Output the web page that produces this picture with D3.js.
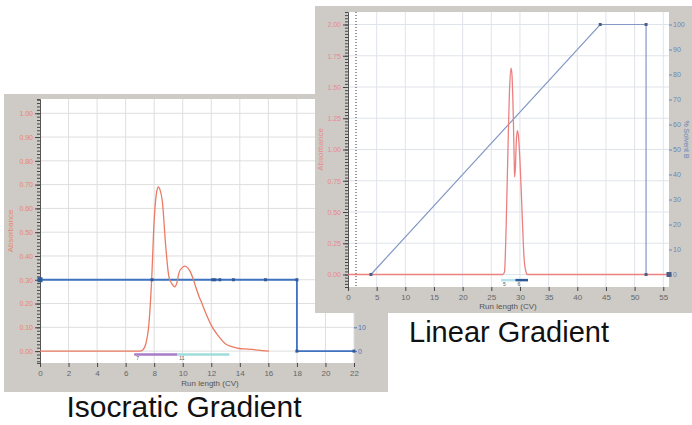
<!DOCTYPE html>
<html>
<head>
<meta charset="utf-8">
<script src="https://cdn.jsdelivr.net/npm/d3@7"></script>
<style>
  body { margin: 0; background: #fff; }
  svg { display: block; font-family: "Liberation Sans", Arial, sans-serif; }
</style>
</head>
<body>
<svg id="chart" width="692" height="425"></svg>
<script>
(function() {

  // isocratic run (left screenshot)
  const isoRunCV = [0, 7.0, 7.2, 7.41, 7.64, 7.83, 7.99, 8.15, 8.29, 8.4, 8.57, 8.81, 9.04, 9.28, 9.44, 9.6, 9.74, 9.95, 10.14, 10.35, 10.56, 10.75, 10.91, 11.14, 11.35, 11.61, 12.08, 12.55, 13.01, 13.5, 13.95, 14.4, 14.88, 15.3, 15.82, 16.05]
  const isoAbs = [0, 0, 0.005, 0.03, 0.12, 0.31, 0.54, 0.66, 0.69, 0.68, 0.63, 0.44, 0.31, 0.28, 0.27, 0.29, 0.33, 0.35, 0.357, 0.35, 0.33, 0.30, 0.27, 0.23, 0.20, 0.16, 0.10, 0.06, 0.03, 0.018, 0.011, 0.009, 0.007, 0.004, 0.001, 0]
  const isoGradCV = [0, 18, 18, 22]
  const isoGradB = [30, 30, 0, 0]
  const isoMarkCV = [0, 7.85, 12.1, 12.26, 12.6, 13.55, 15.8, 18, 18, 22]
  const isoMarkB = [30, 30, 30, 30, 30, 30, 30, 30, 0, 0]
  const isoFracFrom = [6.6, 9.62]
  const isoFracTo = [9.62, 13.27]
  const isoFracLabels = ['7', '11']
  const isoXTicks = [0, 2, 4, 6, 8, 10, 12, 14, 16, 18, 20, 22]
  const isoYTicks = [0, 0.1, 0.2, 0.3, 0.4, 0.5, 0.6, 0.7, 0.8, 0.9, 1.0]
  const isoBTicks = [0, 10, 20, 30, 40, 50, 60, 70, 80, 90, 100]

  // linear gradient run (right screenshot)
  const linRunCV = [0, 27.0, 27.3, 27.6, 27.9, 28.2, 28.45, 28.6, 28.84, 29.0, 29.07, 29.2, 29.35, 29.53, 29.7, 30.0, 30.4, 30.7, 31.0, 31.3, 56]
  const linAbs = [0, 0, 0.02, 0.4, 0.99, 1.5, 1.65, 1.6, 1.26, 0.9, 0.78, 0.85, 1.05, 1.15, 1.12, 0.91, 0.46, 0.14, 0.03, 0, 0]
  const linGradCV = [4, 44, 52, 52, 56]
  const linGradB = [0, 100, 100, 0, 0]
  const linMarkCV = [4, 44, 52, 52, 56]
  const linMarkB = [0, 100, 100, 0, 0]
  const linInjectCV = 1.4
  const linFracFrom = [26.7, 29.2]
  const linFracTo = [29.2, 31.4]
  const linFracLabels = ['5', '6']
  const linXTicks = [0, 5, 10, 15, 20, 25, 30, 35, 40, 45, 50, 55]
  const linYTicks = [0, 0.25, 0.5, 0.75, 1.0, 1.25, 1.5, 1.75, 2.0]
  const linBTicks = [0, 10, 20, 30, 40, 50, 60, 70, 80, 90, 100]

  const svg = d3.select('#chart')

  function drawPanel(cfg) {
    const g = svg.append('g')

    g.append('rect')
      .attr('x', cfg.frame[0]).attr('y', cfg.frame[1])
      .attr('width', cfg.frame[2]).attr('height', cfg.frame[3])
      .attr('fill', '#cecbc6')

    const x = d3.scaleLinear().domain(cfg.xDomain).range([cfg.left, cfg.right])
    const y = d3.scaleLinear().domain(cfg.yDomain).range([cfg.bottom, cfg.top])
    const yB = d3.scaleLinear().domain(cfg.bDomain).range([cfg.bottom, cfg.top])

    g.append('rect')
      .attr('x', cfg.left).attr('y', cfg.top)
      .attr('width', cfg.right - cfg.left).attr('height', cfg.bottom - cfg.top)
      .attr('fill', '#fff')

    const clipId = 'clip-' + cfg.name
    g.append('clipPath').attr('id', clipId)
      .append('rect')
      .attr('x', cfg.left).attr('y', cfg.top)
      .attr('width', cfg.right - cfg.left).attr('height', cfg.bottom - cfg.top)

    // grid
    g.append('g')
      .selectAll('line')
      .data(cfg.xTicks)
      .enter()
      .append('line')
      .attr('x1', d => x(d)).attr('x2', d => x(d))
      .attr('y1', cfg.top).attr('y2', cfg.bottom)
      .attr('stroke', cfg.grid)
    g.append('g')
      .selectAll('line')
      .data(cfg.yTicks)
      .enter()
      .append('line')
      .attr('x1', cfg.left).attr('x2', cfg.right)
      .attr('y1', d => y(d)).attr('y2', d => y(d))
      .attr('stroke', cfg.grid)

    // left axis, with dense minor ticks
    const step = (cfg.yTicks[1] - cfg.yTicks[0]) / cfg.minorPer
    const minor = d3.range(Math.ceil(cfg.yDomain[0] / step), Math.floor(cfg.yDomain[1] / step) + 1).map(i => i * step)
    const minorAxis = g.append('g')
      .attr('transform', `translate(${cfg.left},0)`)
      .call(d3.axisLeft(y).tickValues(minor).tickSize(3).tickFormat(''))
    minorAxis.select('.domain').attr('stroke', '#555')
    minorAxis.selectAll('.tick line').attr('stroke', '#444')

    const yAxis = g.append('g')
      .attr('transform', `translate(${cfg.left},0)`)
      .call(d3.axisLeft(y).tickValues(cfg.yTicks).tickFormat(d3.format('.2f')).tickSize(5).tickPadding(2))
    yAxis.select('.domain').remove()
    yAxis.selectAll('.tick line').attr('stroke', '#444')
    yAxis.selectAll('text').attr('fill', cfg.absColor).style('font-size', '7px')

    const xAxis = g.append('g')
      .attr('transform', `translate(0,${cfg.bottom})`)
      .call(d3.axisBottom(x).tickValues(cfg.xTicks).tickSize(4).tickPadding(3))
    xAxis.select('.domain').remove()
    xAxis.selectAll('.tick line').attr('stroke', '#444')
    xAxis.selectAll('text').attr('fill', '#666').style('font-size', '8px')

    const bAxis = g.append('g')
      .attr('transform', `translate(${cfg.right},0)`)
      .call(d3.axisRight(yB).tickValues(cfg.bTicks).tickSize(3).tickPadding(1))
    bAxis.select('.domain').remove()
    bAxis.selectAll('.tick line').attr('stroke', cfg.bColor)
    bAxis.selectAll('text').attr('fill', cfg.bColor).style('font-size', '7px')

    g.append('text')
      .attr('transform', `translate(${cfg.absLabelX},${(cfg.top + cfg.bottom) / 2}) rotate(-90)`)
      .attr('text-anchor', 'middle')
      .attr('fill', cfg.absColor)
      .style('font-size', '8px')
      .text('Absorbance')

    g.append('text')
      .attr('x', cfg.xLabelX).attr('y', cfg.xLabelY)
      .attr('text-anchor', 'middle')
      .attr('fill', '#555')
      .style('font-size', '8px')
      .text('Run length (CV)')

    if (cfg.bLabelX) {
      g.append('text')
        .attr('transform', `translate(${cfg.bLabelX},${(cfg.top + cfg.bottom) / 2 - 10}) rotate(90)`)
        .attr('text-anchor', 'middle')
        .attr('fill', cfg.bColor)
        .style('font-size', '7px')
        .text('% Solvent B')
    }

    const plot = g.append('g').attr('clip-path', `url(#${clipId})`)

    if (cfg.injectCV !== undefined) {
      plot.append('line')
        .attr('x1', x(cfg.injectCV)).attr('x2', x(cfg.injectCV))
        .attr('y1', cfg.top).attr('y2', cfg.bottom)
        .attr('stroke', '#333')
        .attr('stroke-dasharray', '1,2')
    }

    // fraction bars
    const fracY = y(cfg.fracLevel)
    cfg.fracFrom.forEach((f, i) => {
      plot.append('line')
        .attr('x1', x(f)).attr('x2', x(cfg.fracTo[i]))
        .attr('y1', fracY).attr('y2', fracY)
        .attr('stroke', cfg.fracColors[i])
        .attr('stroke-width', 2.5)
      plot.append('text')
        .attr('x', x(f) + 2).attr('y', fracY + 6)
        .attr('fill', '#555')
        .style('font-size', '5px')
        .text(cfg.fracLabels[i])
    })

    // gradient (% B)
    const bLine = d3.line()
      .x((d, i) => x(cfg.gradCV[i]))
      .y((d, i) => yB(cfg.gradB[i]))
    plot.append('path')
      .attr('d', bLine(cfg.gradCV))
      .attr('fill', 'none')
      .attr('stroke', cfg.gradColor)
      .attr('stroke-width', cfg.gradWidth)

    // absorbance trace
    const absLine = d3.line()
      .x((d, i) => x(cfg.runCV[i]))
      .y((d, i) => y(cfg.abs[i]))
      .curve(d3.curveMonotoneX)
    plot.append('path')
      .attr('d', absLine(cfg.runCV))
      .attr('fill', 'none')
      .attr('stroke', cfg.absLine)
      .attr('stroke-width', 1.3)

    g.append('g')
      .selectAll('rect')
      .data(cfg.markCV)
      .enter()
      .append('rect')
      .attr('x', (d, i) => x(d) - cfg.markSize(i) / 2)
      .attr('y', (d, i) => yB(cfg.markB[i]) - cfg.markSize(i) / 2)
      .attr('width', (d, i) => cfg.markSize(i))
      .attr('height', (d, i) => cfg.markSize(i))
      .attr('fill', cfg.markColor)
  }

  drawPanel({
    name: 'iso',
    frame: [4, 94, 384, 298],
    left: 40, right: 354, top: 99, bottom: 363,
    xDomain: [0, 22], yDomain: [-0.05, 1.06], bDomain: [-5, 106],
    xTicks: isoXTicks, yTicks: isoYTicks, bTicks: isoBTicks,
    minorPer: 7,
    grid: '#dedede',
    absColor: '#e9846c', absLine: '#ec7a62',
    bColor: '#4a78bc', gradColor: '#3f72bf', gradWidth: 1.8,
    markColor: '#2f5a9a', markCV: isoMarkCV, markB: isoMarkB,
    markSize: i => (i === 0 ? 5 : 3),
    runCV: isoRunCV, abs: isoAbs, gradCV: isoGradCV, gradB: isoGradB,
    fracFrom: isoFracFrom, fracTo: isoFracTo, fracLabels: isoFracLabels,
    fracColors: ['#a77bc7', '#9fdcdc'], fracLevel: -0.014,
    absLabelX: 13, xLabelX: 210, xLabelY: 386
  })

  drawPanel({
    name: 'lin',
    frame: [315, 6, 377, 307],
    left: 348, right: 669, top: 12, bottom: 287,
    xDomain: [0, 56], yDomain: [-0.1, 2.1], bDomain: [-5, 105],
    xTicks: linXTicks, yTicks: linYTicks, bTicks: linBTicks,
    minorPer: 10,
    grid: '#dfe3ea',
    absColor: '#e98a8a', absLine: '#ec8080',
    bColor: '#6b86b8', gradColor: '#8398c4', gradWidth: 1.2,
    markColor: '#4b5f86', markCV: linMarkCV, markB: linMarkB,
    markSize: i => (i === 4 ? 5 : 3),
    runCV: linRunCV, abs: linAbs, gradCV: linGradCV, gradB: linGradB,
    injectCV: linInjectCV,
    fracFrom: linFracFrom, fracTo: linFracTo, fracLabels: linFracLabels,
    fracColors: ['#b5e0ea', '#2d5a96'], fracLevel: -0.045,
    absLabelX: 323, xLabelX: 508, xLabelY: 309, bLabelX: 684
  })

  svg.append('text')
    .attr('x', 509).attr('y', 342)
    .attr('text-anchor', 'middle')
    .style('font-size', '29px')
    .attr('fill', '#111')
    .text('Linear Gradient')

  svg.append('text')
    .attr('x', 184).attr('y', 417)
    .attr('text-anchor', 'middle')
    .style('font-size', '30px')
    .attr('fill', '#111')
    .text('Isocratic Gradient')

})()
</script>
</body>
</html>
